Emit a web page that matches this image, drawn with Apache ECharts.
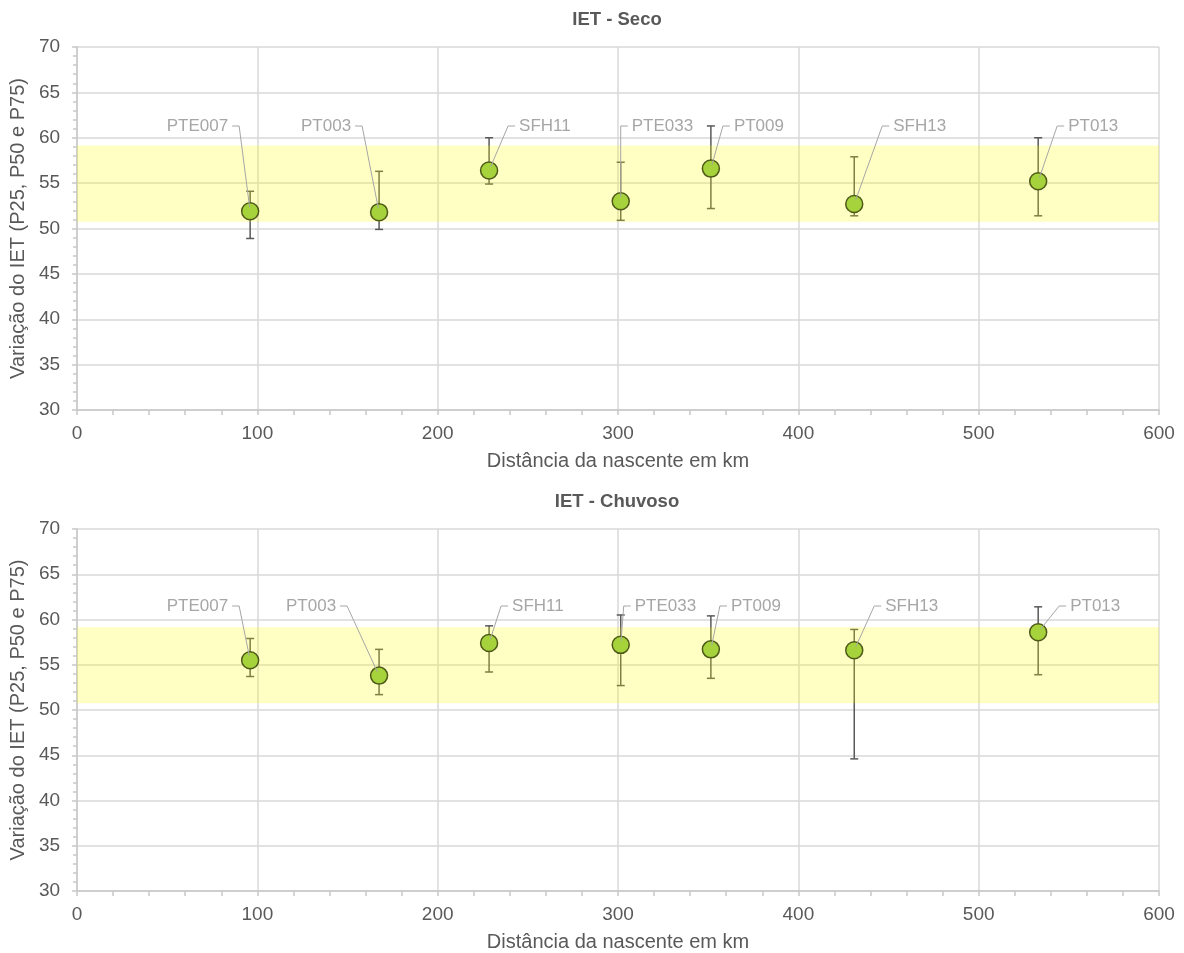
<!DOCTYPE html>
<html>
<head>
<meta charset="utf-8">
<title>IET - Seco / Chuvoso</title>
<script src="https://cdn.jsdelivr.net/npm/echarts@6/dist/echarts.min.js"></script>
<style>
  html, body { margin: 0; padding: 0; background: #ffffff; }
  #chart { width: 1184px; height: 953px; }
</style>
</head>
<body>
<div id="chart"></div>
<script>
// Monitoring stations and their distance from the river source (km)
const stations = ['PTE007', 'PT003', 'SFH11', 'PTE033', 'PT009', 'SFH13', 'PT013'];
const distanceKm = [96, 167.5, 228.5, 301.5, 351.5, 431, 533];

// Trophic state index percentiles - dry season
const secoP25 = [48.9, 49.9, 54.9, 50.9, 52.2, 51.4, 51.4];
const secoP50 = [51.9, 51.8, 56.4, 53.0, 56.6, 52.7, 55.2];
const secoP75 = [54.1, 56.3, 60.0, 57.3, 61.3, 57.9, 60.0];

// Trophic state index percentiles - rainy season
const chuvosoP25 = [53.7, 51.7, 54.2, 52.7, 53.5, 44.6, 53.9];
const chuvosoP50 = [55.5, 53.8, 57.4, 57.2, 56.7, 56.6, 58.6];
const chuvosoP75 = [57.9, 56.7, 59.3, 60.5, 60.4, 58.9, 61.4];

// Shaded reference range of the index
const referenceRange = [50.75, 59.15];

// Axis ticks
const xTicks = { min: 0, max: 600, step: 100 };
const yTicks = { min: 30, max: 70, step: 5 };

// Label placement: horizontal offset (px) of each leader-line elbow from its marker
const leaderDxSeco = [-11, -17, 19, 0, 12, 28, 19];
const leaderDxChuvoso = [-11, -32, 12, 3, 9, 20, 21];
const leaderRowSeco = 79;     // px below plot top
const leaderRowChuvoso = 77;

const FONT = '"Liberation Sans", Arial, Helvetica, sans-serif';
const TEXT_DARK = '#595959';
const TEXT_LIGHT = '#A6A6A6';

const panels = [
  { title: 'IET - Seco', top: 47, height: 363, p25: secoP25, p50: secoP50, p75: secoP75, dx: leaderDxSeco, row: leaderRowSeco },
  { title: 'IET - Chuvoso', top: 529, height: 362, p25: chuvosoP25, p50: chuvosoP50, p75: chuvosoP75, dx: leaderDxChuvoso, row: leaderRowChuvoso }
];

const chart = echarts.init(document.getElementById('chart'), null, { renderer: 'canvas' });

const grids = [], xAxes = [], yAxes = [], titles = [], series = [];

panels.forEach((p, i) => {
  grids.push({ left: 76, right: 25, top: p.top, height: p.height, containLabel: false });
  titles.push({
    text: p.title, left: 617, top: p.top - 37, textAlign: 'center', padding: 0,
    textStyle: { fontFamily: FONT, fontSize: 18.5, fontWeight: 'bold', color: TEXT_DARK }
  });
  xAxes.push({
    type: 'value', gridIndex: i, min: xTicks.min, max: xTicks.max, interval: xTicks.step,
    name: 'Distância da nascente em km', nameLocation: 'middle', nameGap: 41,
    nameTextStyle: { fontFamily: FONT, fontSize: 20, color: TEXT_DARK },
    axisLine: { show: true, onZero: false, lineStyle: { color: '#C8C8C8', width: 1.5 } },
    axisTick: { show: true, inside: false, length: 5, lineStyle: { color: '#C8C8C8', width: 1.5 } },
    minorTick: { show: true, splitNumber: 5, length: 5, lineStyle: { color: '#C8C8C8', width: 1.5 } },
    splitLine: { show: true, lineStyle: { color: '#D9D9D9', width: 1.5 } },
    axisLabel: { fontFamily: FONT, fontSize: 19, color: TEXT_DARK, margin: 14 }
  });
  yAxes.push({
    type: 'value', gridIndex: i, min: yTicks.min, max: yTicks.max, interval: yTicks.step,
    name: 'Variação do IET (P25, P50 e P75)', nameLocation: 'middle', nameGap: 48, nameRotate: 90,
    nameTextStyle: { fontFamily: FONT, fontSize: 20, color: TEXT_DARK },
    axisLine: { show: true, onZero: false, lineStyle: { color: '#C8C8C8', width: 1.5 } },
    axisTick: { show: true, inside: false, length: 5, lineStyle: { color: '#C8C8C8', width: 1.5 } },
    minorTick: { show: true, splitNumber: 5, length: 4, lineStyle: { color: '#C8C8C8', width: 1.5 } },
    splitLine: { show: true, lineStyle: { color: '#D9D9D9', width: 1.5 } },
    axisLabel: { fontFamily: FONT, fontSize: 19, color: TEXT_DARK, margin: 17 }
  });

  // P25-P75 whiskers
  series.push({
    type: 'custom', xAxisIndex: i, yAxisIndex: i, z: 2, silent: true,
    data: distanceKm.map((d, k) => [d, p.p25[k], p.p75[k]]),
    encode: { x: 0, y: [1, 2] },
    renderItem: function (params, api) {
      const lo = api.coord([api.value(0), api.value(1)]);
      const hi = api.coord([api.value(0), api.value(2)]);
      const cap = 4;
      const style = { stroke: TEXT_DARK, lineWidth: 1.5 };
      return {
        type: 'group',
        children: [
          { type: 'line', shape: { x1: lo[0], y1: lo[1], x2: hi[0], y2: hi[1] }, style: style },
          { type: 'line', shape: { x1: lo[0] - cap, y1: lo[1], x2: lo[0] + cap, y2: lo[1] }, style: style },
          { type: 'line', shape: { x1: hi[0] - cap, y1: hi[1], x2: hi[0] + cap, y2: hi[1] }, style: style }
        ]
      };
    }
  });

  // Translucent yellow reference band laid over grid and whiskers
  series.push({
    type: 'custom', xAxisIndex: i, yAxisIndex: i, z: 3, silent: true,
    data: [[xTicks.min, referenceRange[0], referenceRange[1]]],
    encode: { x: 0, y: [1, 2] },
    renderItem: function (params, api) {
      const cs = params.coordSys;
      const yLo = api.coord([api.value(0), api.value(1)])[1];
      const yHi = api.coord([api.value(0), api.value(2)])[1];
      return {
        type: 'rect',
        shape: { x: cs.x, y: yHi, width: cs.width, height: yLo - yHi },
        style: { fill: 'rgba(255, 255, 0, 0.23)' }
      };
    }
  });

  // Medians
  series.push({
    type: 'scatter', xAxisIndex: i, yAxisIndex: i, z: 4, silent: true,
    symbol: 'circle', symbolSize: 17,
    itemStyle: { color: '#A6D23C', borderColor: '#4E5A18', borderWidth: 1.5, opacity: 1 },
    data: distanceKm.map((d, k) => [d, p.p50[k]])
  });

  // Station labels with leader lines
  const dxList = p.dx, rowOffset = p.row;
  series.push({
    type: 'custom', xAxisIndex: i, yAxisIndex: i, z: 5, silent: true,
    data: distanceKm.map((d, k) => [d, p.p50[k], k]),
    encode: { x: 0, y: 1 },
    renderItem: function (params, api) {
      const k = api.value(2);
      const pt = api.coord([api.value(0), api.value(1)]);
      const dx = dxList[k];
      const ex = pt[0] + dx;
      const ey = params.coordSys.y + rowOffset;
      const dir = dx < 0 ? -1 : 1;
      // stop the leader a little short of the marker centre
      const vx = ex - pt[0], vy = ey - pt[1];
      const len = Math.sqrt(vx * vx + vy * vy) || 1;
      const sx = pt[0] + vx / len * 4, sy = pt[1] + vy / len * 4;
      return {
        type: 'group',
        children: [
          {
            type: 'polyline',
            shape: { points: [[sx, sy], [ex, ey], [ex + dir * 7, ey]] },
            style: { stroke: TEXT_LIGHT, lineWidth: 1, fill: null }
          },
          {
            type: 'text',
            style: {
              x: ex + dir * 11, y: ey, text: stations[k],
              align: dir < 0 ? 'right' : 'left', verticalAlign: 'middle',
              font: '17px ' + FONT, fill: TEXT_LIGHT
            }
          }
        ]
      };
    }
  });
});

chart.setOption({
  animation: false,
  backgroundColor: '#ffffff',
  title: titles,
  grid: grids,
  xAxis: xAxes,
  yAxis: yAxes,
  series: series
});
</script>
</body>
</html>
